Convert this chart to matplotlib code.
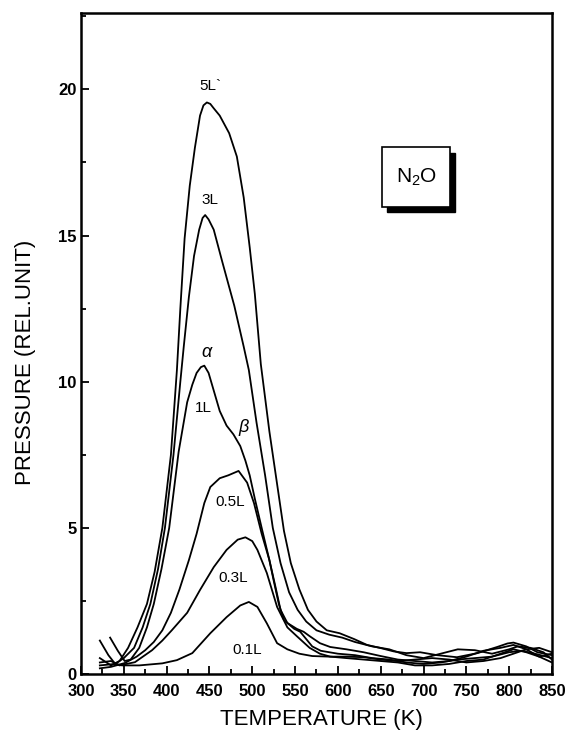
import matplotlib
matplotlib.use("Agg")
import matplotlib.pyplot as plt
from matplotlib.patches import Rectangle
from matplotlib.ticker import MultipleLocator

plt.rcParams["font.family"] = ["Liberation Sans", "DejaVu Sans"]
plt.rcParams["mathtext.fontset"] = "custom"
plt.rcParams["mathtext.rm"] = "Liberation Sans"
plt.rcParams["mathtext.it"] = "Liberation Sans:italic"

# desorption curves (temperature in K, pressure in rel. units)
t_5L = [322, 335, 345, 355, 366, 377, 386, 395, 405, 412, 416, 421, 427, 433, 439, 443,
        447, 451, 455, 462, 473, 482, 490, 497, 503, 510, 520, 530, 537, 545, 555, 565,
        575, 587, 602, 619, 634, 649, 665, 680, 696, 716, 739, 763, 786, 798, 805, 812,
        820, 833, 850]
p_5L = [0.55, 0.3, 0.45, 0.9, 1.6, 2.4, 3.5, 5.0, 7.5, 10.4, 12.5, 14.9, 16.7, 18.0, 19.1, 19.45,
        19.55, 19.5, 19.35, 19.1, 18.5, 17.7, 16.3, 14.6, 13.0, 10.6, 8.3, 6.3, 4.9, 3.8, 2.9, 2.2,
        1.8, 1.5, 1.4, 1.2, 1.0, 0.9, 0.78, 0.72, 0.75, 0.65, 0.58, 0.72, 0.93, 1.05, 1.08, 1.02,
        0.95, 0.75, 0.65]

t_3L = [322, 332, 340, 350, 362, 372, 381, 390, 398, 408, 416, 420, 426, 432, 438, 442,
        445, 449, 455, 465, 479, 490, 496, 505, 515, 524, 533, 543, 553, 563, 575, 590,
        605, 620, 640, 660, 680, 700, 720, 740, 760, 780, 800, 810, 825, 840, 850]
p_3L = [1.15, 0.65, 0.35, 0.55, 0.9, 1.6, 2.4, 3.6, 5.0, 7.5, 10.0, 11.2, 12.9, 14.3, 15.2, 15.6,
        15.7, 15.55, 15.2, 14.1, 12.6, 11.2, 10.4, 8.6, 6.8, 5.0, 3.8, 2.8, 2.2, 1.8, 1.5, 1.35,
        1.25, 1.1, 0.95, 0.85, 0.65, 0.55, 0.7, 0.85, 0.82, 0.7, 0.85, 0.95, 0.9, 0.75, 0.5]

t_1L = [334, 343, 351, 358, 368, 377, 385, 394, 403, 414, 424, 430, 435, 440, 444, 449,
        455, 462, 470, 478, 486, 492, 497, 503, 511, 520, 527, 533, 541, 552, 560, 567, 579,
        591, 610, 630, 650, 670, 690, 710, 730, 750, 770, 790, 805, 820, 835, 850]
p_1L = [1.25, 0.8, 0.45, 0.5, 0.9, 1.6, 2.4, 3.6, 5.0, 7.6, 9.3, 9.9, 10.3, 10.5, 10.55, 10.3,
        9.7, 9.0, 8.5, 8.2, 7.8, 7.3, 6.8, 6.0, 5.0, 3.9, 3.0, 2.2, 1.75, 1.55, 1.45, 1.3, 1.06,
        0.93, 0.85, 0.75, 0.62, 0.5, 0.45, 0.4, 0.45, 0.6, 0.8, 0.9, 1.0, 0.85, 0.6, 0.4]

t_05L = [322, 335, 351, 365, 375, 385, 395, 405, 415, 426, 435, 444, 451, 462, 472, 484,
         494, 502, 511, 520, 525, 531, 537, 549, 556, 563, 570, 580, 600, 620, 640, 660,
         680, 700, 720, 740, 760, 780, 800, 815, 830, 850]
p_05L = [0.2, 0.25, 0.38, 0.6, 0.82, 1.1, 1.5, 2.1, 2.9, 3.9, 4.8, 5.85, 6.4, 6.7, 6.8, 6.95,
         6.55, 5.85, 4.8, 3.9, 3.2, 2.4, 1.85, 1.55, 1.45, 1.2, 0.95, 0.8, 0.7, 0.65, 0.55, 0.5,
         0.4, 0.35, 0.4, 0.5, 0.55, 0.6, 0.75, 0.8, 0.7, 0.55]

t_03L = [322, 335, 345, 363, 383, 395, 406, 415, 424, 439, 455, 470, 483, 492, 500, 506,
         517, 529, 541, 552, 567, 579, 591, 610, 630, 650, 670, 690, 710, 730, 750, 770,
         790, 805, 820, 835, 850]
p_03L = [0.4, 0.45, 0.3, 0.41, 0.82, 1.15, 1.5, 1.8, 2.1, 2.88, 3.66, 4.25, 4.6, 4.68, 4.55, 4.25,
         3.46, 2.3, 1.6, 1.3, 0.9, 0.7, 0.6, 0.55, 0.5, 0.45, 0.4, 0.3, 0.3, 0.35, 0.45, 0.5,
         0.7, 0.85, 0.75, 0.6, 0.7]

t_01L = [322, 340, 348, 368, 395, 412, 430, 451, 470, 486, 496, 506, 517, 529, 541, 555,
         570, 590, 610, 630, 650, 670, 690, 710, 730, 750, 770, 790, 805, 820, 835, 850]
p_01L = [0.3, 0.35, 0.3, 0.3, 0.37, 0.48, 0.72, 1.4, 1.95, 2.35, 2.47, 2.3, 1.74, 1.06, 0.85, 0.7,
         0.62, 0.6, 0.6, 0.58, 0.5, 0.45, 0.5, 0.55, 0.5, 0.4, 0.45, 0.55, 0.7, 0.85, 0.9, 0.75]

curve_t = [t_5L, t_3L, t_1L, t_05L, t_03L, t_01L]
curve_p = [p_5L, p_3L, p_1L, p_05L, p_03L, p_01L]

# curve labels and where they sit
label_text = ["5L`", "3L", r"$\alpha$", "1L", r"$\beta$", "0.5L", "0.3L", "0.1L"]
label_t = [451, 451, 447, 443, 490, 474, 478, 494]
label_p = [20.1, 16.2, 11.0, 9.1, 8.45, 5.9, 3.3, 0.82]

fig = plt.figure(figsize=(5.72, 7.36), dpi=100)
ax = fig.add_axes([0.1416, 0.084, 0.8234, 0.898])

for t, p in zip(curve_t, curve_p):
    ax.plot(t, p, color="black", lw=1.3)

for s, x, y in zip(label_text, label_t, label_p):
    fs = 13 if s.startswith("$") else 11
    ax.text(x, y, s, fontsize=fs, ha="center", va="center")

# N2O box with a drop shadow
ax.add_patch(Rectangle((0.650, 0.699), 0.145, 0.09, transform=ax.transAxes,
                       facecolor="black", edgecolor="black", zorder=3))
ax.add_patch(Rectangle((0.639, 0.707), 0.145, 0.09, transform=ax.transAxes,
                       facecolor="white", edgecolor="black", lw=1.2, zorder=4))
ax.text(0.7115, 0.752, r"N$_2$O", transform=ax.transAxes, fontsize=15,
        ha="center", va="center", zorder=5)

ax.set_xlim(300, 850)
ax.set_ylim(0, 22.6)
ax.xaxis.set_major_locator(MultipleLocator(50))
ax.xaxis.set_minor_locator(MultipleLocator(25))
ax.yaxis.set_major_locator(MultipleLocator(5))
ax.yaxis.set_minor_locator(MultipleLocator(2.5))
ax.tick_params(which="both", direction="in", top=False, right=False, width=1.3)
ax.tick_params(which="major", length=6)
ax.tick_params(which="minor", length=3.5)
ax.tick_params(axis="x", which="major", pad=7, labelsize=12)
ax.tick_params(axis="y", which="major", pad=3, labelsize=12)
for lab in ax.get_xticklabels() + ax.get_yticklabels():
    lab.set_fontweight("bold")
for sp in ax.spines.values():
    sp.set_linewidth(1.8)

ax.set_xlabel("TEMPERATURE (K)", fontsize=16)
ax.set_ylabel("PRESSURE (REL.UNIT)", fontsize=16)
ax.xaxis.set_label_coords(0.51, -0.052)
ax.yaxis.set_label_coords(-0.095, 0.472)

fig.savefig("out.png", dpi=100)
